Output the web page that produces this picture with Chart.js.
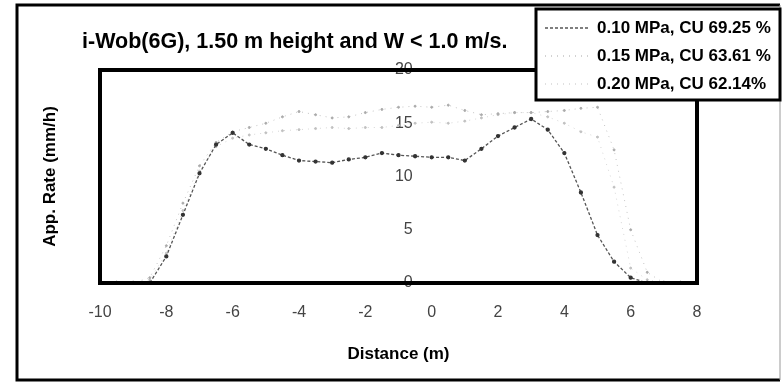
<!DOCTYPE html>
<html>
<head>
<meta charset="utf-8">
<script src="https://cdn.jsdelivr.net/npm/chart.js@4.4.0/dist/chart.umd.min.js"></script>
<style>
  html, body { margin: 0; padding: 0; background: #fff; }
  #wrap { width: 782px; height: 384px; }
</style>
</head>
<body>
<div id="wrap"><canvas id="chart" width="782" height="384"></canvas></div>
<script>
const distance = [-10, -9.5, -9, -8.5, -8, -7.5, -7, -6.5, -6, -5.5, -5, -4.5, -4, -3.5, -3, -2.5, -2, -1.5, -1, -0.5,
  0, 0.5, 1, 1.5, 2, 2.5, 3, 3.5, 4, 4.5, 5, 5.5, 6, 6.5, 7, 7.5, 8];
const rate010 = [0, 0, 0, 0, 2.5, 6.4, 10.3, 13.0, 14.1, 13.0, 12.6, 12.0, 11.5, 11.4, 11.3, 11.6, 11.8, 12.2, 12.0, 11.9,
  11.8, 11.8, 11.5, 12.6, 13.8, 14.6, 15.4, 14.4, 12.2, 8.5, 4.5, 2.0, 0.5, 0, 0, 0, 0];
const rate015 = [0, 0, 0, 0.5, 3.5, 7.5, 11.0, 13.2, 14.2, 14.6, 15.0, 15.6, 16.1, 15.8, 15.5, 15.6, 16.0, 16.3, 16.5, 16.6,
  16.5, 16.7, 16.2, 15.8, 15.9, 16.0, 16.0, 16.1, 16.2, 16.4, 16.5, 12.5, 5.0, 1.0, 0, 0, 0];
const rate020 = [0, 0, 0, 0.3, 2.8, 6.8, 10.5, 12.8, 13.6, 13.9, 14.1, 14.3, 14.4, 14.5, 14.6, 14.5, 14.6, 14.6, 14.8, 15.0,
  15.1, 15.0, 15.2, 15.5, 15.8, 16.0, 16.0, 15.6, 15.0, 14.2, 13.7, 9.0, 1.4, 0.3, 0, 0, 0];
const seriesLabels = ['0.10 MPa, CU 69.25 %', '0.15 MPa, CU 63.61 %', '0.20 MPa, CU 62.14%'];
const xTicks = [-10, -8, -6, -4, -2, 0, 2, 4, 6, 8];
const yTicks = [0, 5, 10, 15, 20];
const chartTitle = 'i-Wob(6G), 1.50 m height and W < 1.0 m/s.';

const family = '"Liberation Sans", Arial, sans-serif';
const toPoints = vals => distance.map((d, i) => ({ x: d, y: vals[i] }));

// frames, title and the boxed legend that sits over the top-right corner
const decorPlugin = {
  id: 'decor',
  afterDraw(chart) {
    const { ctx, chartArea: a } = chart;
    ctx.save();
    ctx.strokeStyle = '#000';
    ctx.lineWidth = 3;
    ctx.beginPath();
    ctx.moveTo(780, 380); ctx.lineTo(17, 380); ctx.lineTo(17, 5); ctx.lineTo(780, 5);
    ctx.stroke();
    ctx.lineWidth = 1;
    ctx.strokeStyle = '#999';
    ctx.beginPath(); ctx.moveTo(780, 5); ctx.lineTo(780, 380); ctx.stroke();

    ctx.strokeStyle = '#000';
    ctx.lineWidth = 4;
    ctx.strokeRect(a.left, a.top, a.right - a.left, a.bottom - a.top);

    ctx.fillStyle = '#000';
    ctx.font = 'bold 21.5px ' + family;
    ctx.textAlign = 'left';
    ctx.textBaseline = 'middle';
    ctx.fillText(chartTitle, 82, 42);

    ctx.fillStyle = '#fff';
    ctx.fillRect(536, 9, 244, 91);
    ctx.lineWidth = 3;
    ctx.strokeRect(536, 9, 244, 91);
    ctx.font = 'bold 17px ' + family;
    const rows = [28, 56, 84];
    chart.data.datasets.forEach((ds, i) => {
      ctx.strokeStyle = ds.borderColor;
      ctx.lineWidth = 1.5;
      ctx.setLineDash(ds.borderDash);
      ctx.beginPath(); ctx.moveTo(545, rows[i]); ctx.lineTo(590, rows[i]); ctx.stroke();
      ctx.setLineDash([]);
      ctx.fillStyle = '#000';
      ctx.fillText(ds.label, 597, rows[i]);
    });
    ctx.restore();
  }
};

new Chart(document.getElementById('chart'), {
  type: 'line',
  data: {
    datasets: [
      { label: seriesLabels[0], data: toPoints(rate010), borderColor: '#555', borderWidth: 1.3, borderDash: [3, 2],
        pointRadius: 1.5, pointBackgroundColor: '#333', pointBorderColor: '#333', xAxisID: 'x', yAxisID: 'y' },
      { label: seriesLabels[1], data: toPoints(rate015), borderColor: '#c4c4c4', borderWidth: 1, borderDash: [1, 5],
        pointRadius: 1, pointBackgroundColor: '#aaa', pointBorderColor: '#aaa', xAxisID: 'x', yAxisID: 'y' },
      { label: seriesLabels[2], data: toPoints(rate020), borderColor: '#d6d6d6', borderWidth: 1, borderDash: [1, 5],
        pointRadius: 1, pointBackgroundColor: '#c0c0c0', pointBorderColor: '#c0c0c0', xAxisID: 'x', yAxisID: 'y' }
    ]
  },
  options: {
    responsive: false,
    animation: false,
    layout: { padding: { left: 0, right: 85, top: 70, bottom: 0 } },
    plugins: { legend: { display: false }, title: { display: false }, tooltip: { enabled: false } },
    scales: {
      x: {
        type: 'linear', min: -10, max: 8,
        afterBuildTicks: s => { s.ticks = xTicks.map(v => ({ value: v })); },
        afterFit: s => { s.height = 101; },
        grid: { display: false, drawTicks: false },
        border: { display: false },
        ticks: { color: '#444', font: { size: 16, family }, padding: 20, maxRotation: 0 },
        title: { display: true, text: 'Distance (m)', color: '#000', font: { size: 17, weight: 'bold', family },
          padding: { top: 0, bottom: 19 } }
      },
      y: {
        // value axis crosses just left of x = 0, labels hang off it
        axis: 'y', type: 'linear', position: { x: -0.57 }, min: 0, max: 20,
        afterBuildTicks: s => { s.ticks = yTicks.map(v => ({ value: v })); },
        grid: { display: false, drawTicks: false },
        border: { display: false },
        ticks: { color: '#444', font: { size: 16, family } }
      },
      yl: {
        axis: 'y', type: 'linear', position: 'left', min: 0, max: 20,
        afterFit: s => { s.width = 100; },
        grid: { display: false, drawTicks: false },
        border: { display: false },
        ticks: { display: false },
        title: { display: true, text: 'App. Rate (mm/h)', color: '#000', font: { size: 17, weight: 'bold', family },
          padding: { top: 40, bottom: 0 } }
      }
    }
  },
  plugins: [decorPlugin]
});
</script>
</body>
</html>
